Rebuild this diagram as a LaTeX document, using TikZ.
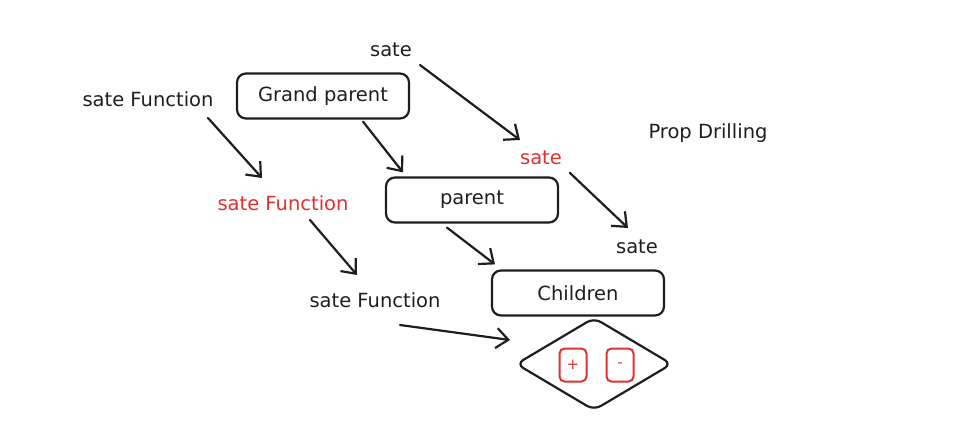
\documentclass[tikz,border=0pt]{standalone}
\usepackage{fontspec}
\setmainfont{DejaVu Sans}
\usetikzlibrary{arrows.meta,shapes.geometric}
\definecolor{ink}{HTML}{1E1E1E}
\definecolor{exred}{HTML}{E03131}
\tikzset{
  lbl/.style={font=\fontsize{19.5}{23}\selectfont, text=ink, inner sep=3pt},
  rlbl/.style={lbl, text=exred},
  boxnode/.style={draw=ink, line width=2.2pt, rounded corners=9pt, minimum width=172pt, minimum height=45pt, font=\fontsize{19.5}{23}\selectfont, text=ink},
  smallbox/.style={draw=exred, line width=2pt, rounded corners=5pt, minimum width=27pt, minimum height=33pt, font=\fontsize{15}{18}\selectfont, text=exred},
  conn/.style={draw=ink, line width=2.2pt, line cap=round, -{Straight Barb[length=12pt,width=20pt,line width=2.2pt]}},
}
\begin{document}
\begin{tikzpicture}[x=1pt,y=-1pt]
\useasboundingbox (0,0) rectangle (959,424);
\node[lbl] (s1) at (391,50) {sate};
\node[boxnode] (gp) at (323,96) {Grand parent};
\node[lbl] (sf1) at (148,99) {sate Function};
\node[lbl] (pd) at (708,133) {Prop Drilling};
\node[rlbl] (s2) at (541,158) {sate};
\node[rlbl] (sf2) at (283,203) {sate Function};
\node[boxnode] (par) at (472,200) {parent};
\node[lbl] (s3) at (637,247) {sate};
\node[boxnode] (ch) at (578,293) {Children};
\node[lbl] (sf3) at (375,300) {sate Function};
\node[diamond, draw=ink, line width=2.2pt, rounded corners=8pt, minimum width=156pt, minimum height=93pt, inner sep=0pt] (dm) at (594,364) {};
\node[smallbox] (plus) at (573,365) {+};
\node[smallbox] (minus) at (620,365) {-};
% connectors
\draw[conn] ([shift={(29,15)}]s1.center) -- ([shift={(-21,-18)}]s2.center);
\draw[conn] ([shift={(60,19)}]sf1.center) -- ([shift={(-21,-25)}]sf2.center);
\draw[conn] ([xshift=40pt,yshift=-2pt]gp.south) -- ([xshift=-69pt,yshift=4pt]par.north);
\draw[conn] ([shift={(29,15)}]s2.center) -- ([shift={(-9,-19)}]s3.center);
\draw[conn] ([shift={(27,17)}]sf2.center) -- ([shift={(-18,-25)}]sf3.center);
\draw[conn] ([xshift=-25pt,yshift=-4pt]par.south) -- ([xshift=-83pt,yshift=5pt]ch.north);
\draw[conn] ([shift={(25,25)}]sf3.center) -- ([shift={(-84,-24)}]dm.center);
\end{tikzpicture}
\end{document}
